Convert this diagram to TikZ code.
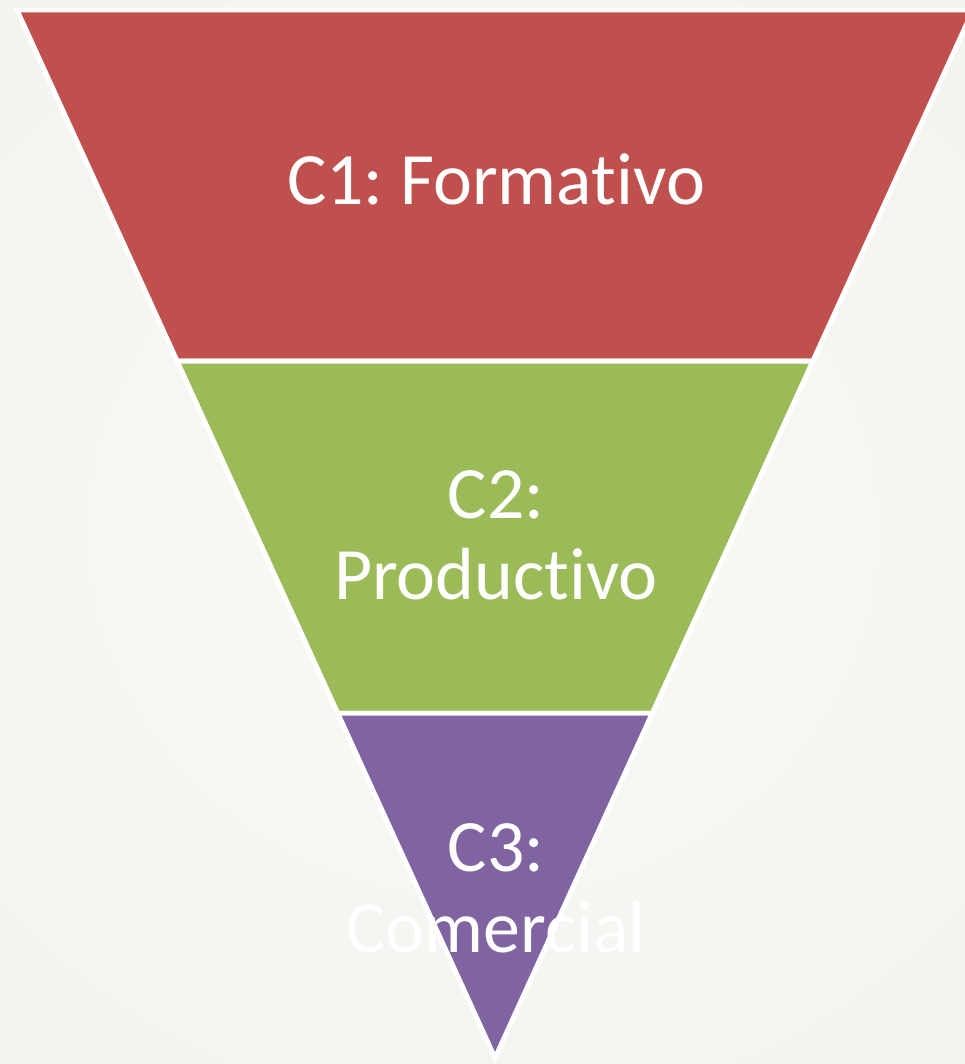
\documentclass[tikz,border=0pt]{standalone}
\usepackage{fontspec}
\setmainfont{Carlito}[Ligatures=NoCommon]
\usepackage{tikz}
\usetikzlibrary{calc,positioning}
\frenchspacing

\definecolor{bgpaper}{RGB}{244,243,239}
\definecolor{bgcenter}{RGB}{249,249,246}
\definecolor{layerred}{RGB}{192,80,77}
\definecolor{layergreen}{RGB}{155,187,89}
\definecolor{layerpurple}{RGB}{128,100,162}

\begin{document}
\begin{tikzpicture}[x=0.01cm,y=-0.01cm,
	layer/.style={draw=white,line width=1.4pt,line join=miter},
	label/.style={text=white,align=center,anchor=base,inner sep=0pt,
		font=\fontsize{21}{22.8}\selectfont}]
	\useasboundingbox (0,0) rectangle (965,1064);
	\clip (0,0) rectangle (965,1064);
	\shade[inner color=bgcenter,outer color=bgpaper] (-200,-100) rectangle (1165,1164);

	\coordinate (tl) at (17,10);
	\coordinate (tr) at (973,10);
	\coordinate (apex) at (495,1058);
	\coordinate (l1) at ($(tl)!0.335!(apex)$);
	\coordinate (r1) at ($(tr)!0.335!(apex)$);
	\coordinate (l2) at ($(tl)!0.671!(apex)$);
	\coordinate (r2) at ($(tr)!0.671!(apex)$);

	\path[layer,fill=layerred] (tl) -- (tr) -- (r1) -- (l1) -- cycle;
	\path[layer,fill=layergreen] (l1) -- (r1) -- (r2) -- (l2) -- cycle;
	\path[layer,fill=layerpurple] (l2) -- (r2) -- (apex) -- cycle;

	% base anchor sits on the last line
	\node (c1) [label] at (496,205) {C1: Formativo};
	\node (c2) [label] at (496,599) {C2:\\Productivo};
	\node (c3) [label] at (496,952) {C3:\\Comercial};
\end{tikzpicture}
\end{document}
